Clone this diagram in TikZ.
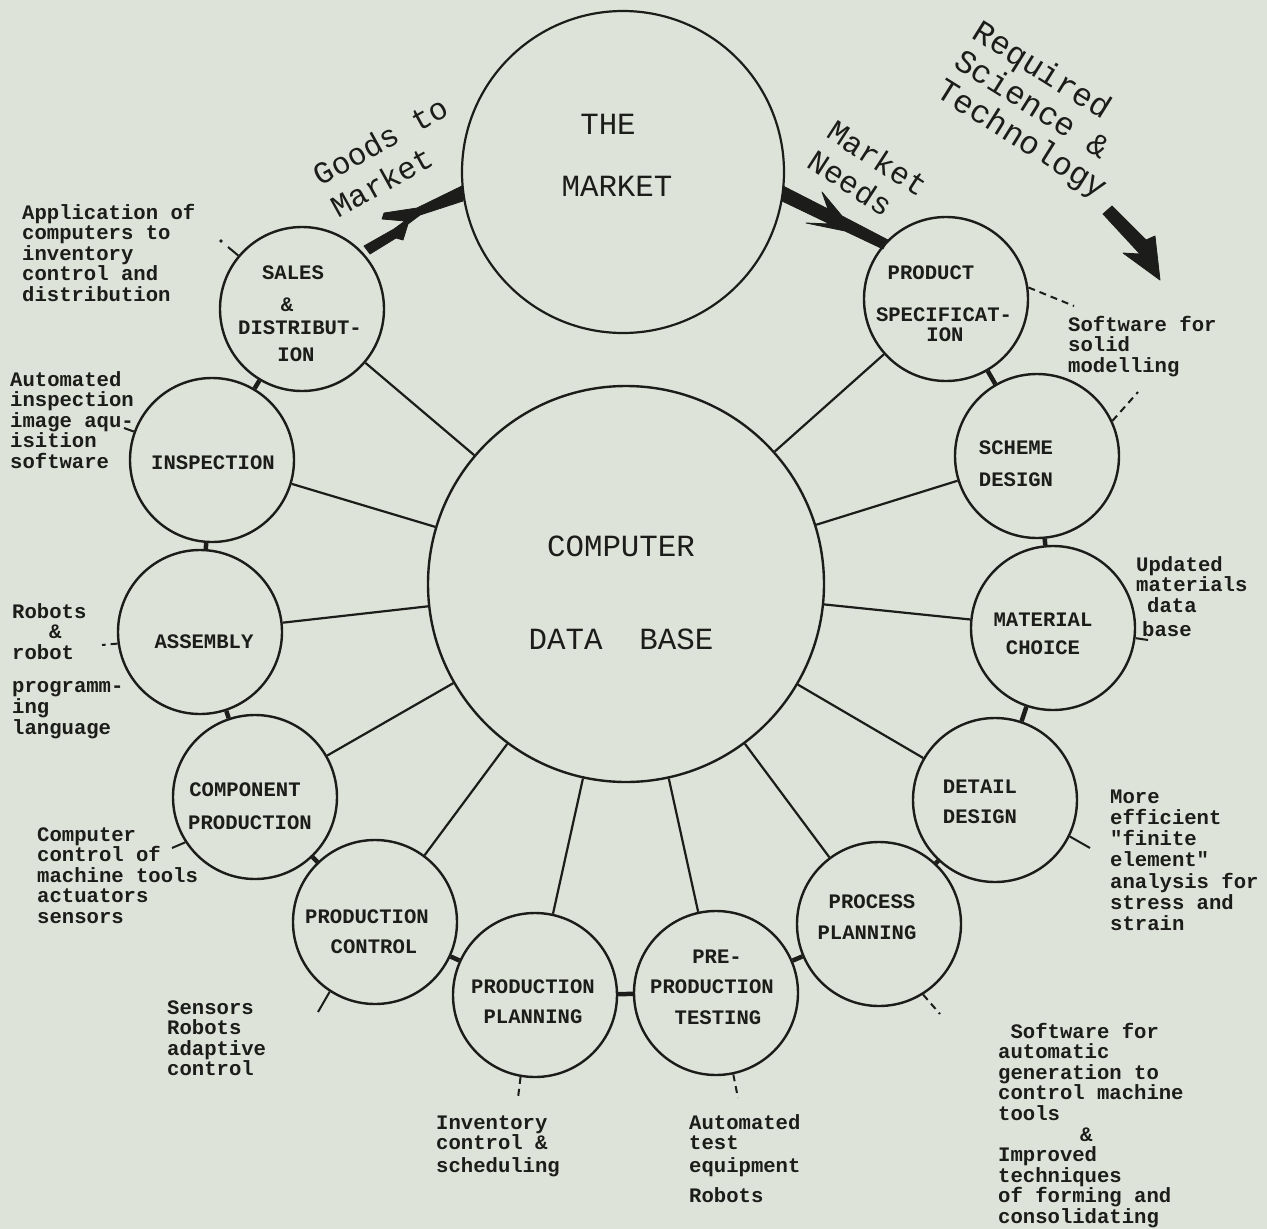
\documentclass[tikz,border=0pt]{standalone}
\usepackage{fontspec}
\newfontfamily\tw{Liberation Mono}
\definecolor{bg}{RGB}{221,227,216}
\definecolor{ink}{RGB}{28,28,26}
\tikzset{
  circ/.style={circle,draw=ink,line width=2.4pt,inner sep=0pt,minimum size=164pt},
  spoke/.style={draw=ink,line width=2.2pt},
  link/.style={draw=ink,line width=4.5pt},
  tick/.style={draw=ink,line width=2pt},
  dtick/.style={draw=ink,line width=2pt,dash pattern=on 7pt off 5pt},
  lab/.style={font=\tw\bfseries\fontsize{20.6}{20.6}\selectfont,text=ink,inner sep=0pt,anchor=base},
  note/.style={font=\tw\bfseries\fontsize{20.6}{#1}\selectfont,text=ink,inner sep=0pt,
    anchor=base west,align=flush left},
  note/.default=20.6,
  big/.style={font=\tw\fontsize{30.8}{31}\selectfont,text=ink,inner sep=0pt,anchor=base},
  rot/.style={font=\tw\fontsize{31}{#1}\selectfont,text=ink,inner sep=0pt,
    anchor=base west,align=flush left},
  arr/.style={fill=ink,draw=ink,line width=0.8pt,line join=round},
}
\begin{document}
\begin{tikzpicture}[x=1pt,y=-1pt]
\useasboundingbox (0,0) rectangle (1267,1229);
\fill[bg] (0,0) rectangle (1267,1229);

% circles
\node[circ,minimum size=396pt] (cdb) at (626,584) {};
\node[circ,minimum size=322pt,line width=2.2pt] (mkt) at (623,172) {};
\node[circ] (sales) at (302,309) {};
\node[circ] (insp) at (212,460) {};
\node[circ] (asm) at (200,632) {};
\node[circ] (comp) at (255,797) {};
\node[circ] (pc) at (375,922) {};
\node[circ] (pp) at (535,995) {};
\node[circ] (pt) at (716,993) {};
\node[circ] (proc) at (879,924) {};
\node[circ] (det) at (995,800) {};
\node[circ] (mat) at (1053,628) {};
\node[circ] (sch) at (1037,456) {};
\node[circ] (spec) at (946,299) {};

% spokes
\foreach \n in {sales,insp,asm,comp,pc,pp,pt,proc,det,mat,sch,spec}
  \draw[spoke] (\n) -- (cdb);

% links between neighbouring circles
\draw[link] (sales) -- (insp);
\draw[link] (insp) -- (asm);
\draw[link] (asm) -- (comp);
\draw[link] (comp) -- (pc);
\draw[link] (pc) -- (pp);
\draw[link] (pp) -- (pt);
\draw[link] (pt) -- (proc);
\draw[link] (proc) -- (det);
\draw[link] (det) -- (mat);
\draw[link] (mat) -- (sch);
\draw[link] (sch) -- (spec);

% ticks toward the notes
\coordinate (ts) at (228,247);
\coordinate (ti) at (124,428);
\coordinate (ta) at (102,645);
\coordinate (tc) at (172,848);
\coordinate (tpc) at (318,1012);
\coordinate (tpp) at (518,1098);
\coordinate (tpt) at (738,1098);
\coordinate (tpr) at (940,1014);
\coordinate (td) at (1090,848);
\coordinate (tm) at (1148,640);
\coordinate (tsc) at (1138,392);
\coordinate (tsp) at (1074,306);
\draw[tick] (sales.140) -- (ts);
\fill[ink] (221,241) circle (1.8pt);
\draw[tick] (insp.160) -- (ti);
\draw[dtick] (asm.188) -- (ta);
\draw[tick] (comp.213) -- (tc);
\draw[tick] (pc.237) -- (tpc);
\draw[dtick] (pp.260) -- (tpp);
\draw[dtick] (pt.282) -- (tpt);
\draw[dtick] (proc.302) -- (tpr);
\draw[tick] (det.334) -- (td);
\draw[tick] (mat.353) -- (tm);
\draw[dtick] (sch.25) -- (tsc);
\draw[dtick] (spec.8) -- (tsp);

% hand-drawn arrows
\filldraw[arr] (462,186) -- (463,201) -- (420,215) -- (408,224) -- (403,240) -- (396,238)
  -- (370,254) -- (364,246) -- (394,229) -- (405,221) -- (382,219) -- (384,213) -- (417,208) -- cycle;
\filldraw[arr] (783,186) -- (828,209) -- (822,192) -- (842,216) -- (888,240) -- (883,249)
  -- (845,231) -- (806,223) -- (830,224) -- (782,201) -- cycle;
\filldraw[arr] (1103,214) -- (1112,206) -- (1146,240) -- (1155,236) -- (1160,280)
  -- (1123,253) -- (1140,254) -- cycle;

% big texts
\node[big] (tthe) at (608,134) {THE};
\node[big] (tmkt) at (617,196) {MARKET};
\node[big] (tcomp) at (621,556) {COMPUTER};
\node[big] (tdb) at (621,649) {DATA\ \ BASE};
\node[rot=36.5,rotate=29,text width=156pt] (goods) at (320.6,186.6) {Goods to\\Market};
\node[rot=35.5,rotate=-33,text width=118pt] (needs) at (824.9,136.8) {Market\\Needs};
\node[rot=34.5,rotate=-32,font=\tw\fontsize{32.5}{34.5}\selectfont,text width=202pt]
  (req) at (970.5,37.3) {Required\\Science \&\\Technology};

% circle labels
\node[lab] (l1a) at (293,279.5) {SALES};
\node[lab] (l1b) at (287,311.5) {\&};
\node[lab] (l1c) at (300,334.5) {DISTRIBUT-};
\node[lab] (l1d) at (296,361.5) {ION};
\node[lab] (l2) at (213,469.5) {INSPECTION};
\node[lab] (l3) at (204,648.5) {ASSEMBLY};
\node[lab] (l4a) at (245,796.5) {COMPONENT};
\node[lab] (l4b) at (250,829.5) {PRODUCTION};
\node[lab] (l5a) at (367,923.5) {PRODUCTION};
\node[lab] (l5b) at (374,953.5) {CONTROL};
\node[lab] (l6a) at (533,993.5) {PRODUCTION};
\node[lab] (l6b) at (533,1023.5) {PLANNING};
\node[lab] (l7a) at (717,963.5) {PRE-};
\node[lab] (l7b) at (712,993.5) {PRODUCTION};
\node[lab] (l7c) at (718,1024.5) {TESTING};
\node[lab] (l8a) at (872,908.5) {PROCESS};
\node[lab] (l8b) at (867,939.5) {PLANNING};
\node[lab] (l9a) at (980,793.5) {DETAIL};
\node[lab] (l9b) at (980,823.5) {DESIGN};
\node[lab] (l10a) at (1043,626.5) {MATERIAL};
\node[lab] (l10b) at (1043,654.5) {CHOICE};
\node[lab] (l11a) at (1016,454.5) {SCHEME};
\node[lab] (l11b) at (1016,486.5) {DESIGN};
\node[lab] (l12a) at (931,279.5) {PRODUCT};
\node[lab] (l12b) at (944,321.5) {SPECIFICAT-};
\node[lab] (l12c) at (945,341.5) {ION};

% notes
\node[note=20.5,text width=180pt] (na) at (22,219)
  {Application of\\computers to\\inventory\\control and\\distribution};
\node[note=20.6,text width=130pt] (nb) at (10,386)
  {Automated\\inspection\\image aqu-\\isition\\software};
\node[note,text width=118pt] (nc) at (12,618)
  {Robots\\\hspace*{37pt}\&\\robot\\[13pt]programm-\\ing\\language};
\node[note,text width=166pt] (nd) at (37,841)
  {Computer\\control of\\machine tools\\actuators\\sensors};
\node[note,text width=104pt] (ne) at (167,1014)
  {Sensors\\Robots\\adaptive\\control};
\node[note,text width=130pt] (nf) at (436,1129)
  {Inventory\\control \&\\[2pt]scheduling};
\node[note,text width=118pt] (nh) at (689,1129)
  {Automated\\test\\[2pt]equipment\\[10pt]Robots};
\node[note,text width=192pt] (nk) at (998,1038)
  {\hspace*{12.4pt}Software for\\automatic\\generation to\\control machine\\tools\\\hspace*{82pt}\&\\Improved\\techniques\\of forming and\\consolidating};
\node[note=21.3,text width=154pt] (nm) at (1110,803)
  {More\\efficient\\"finite\\element"\\analysis for\\stress and\\strain};
\node[note,text width=118pt] (np) at (1136,571)
  {Updated\\materials\\\hspace*{11pt}data\\[4pt]\hspace*{6pt}base};
\node[note,text width=154pt] (ns) at (1068,331)
  {Software for\\solid\\modelling};
\end{tikzpicture}
\end{document}
